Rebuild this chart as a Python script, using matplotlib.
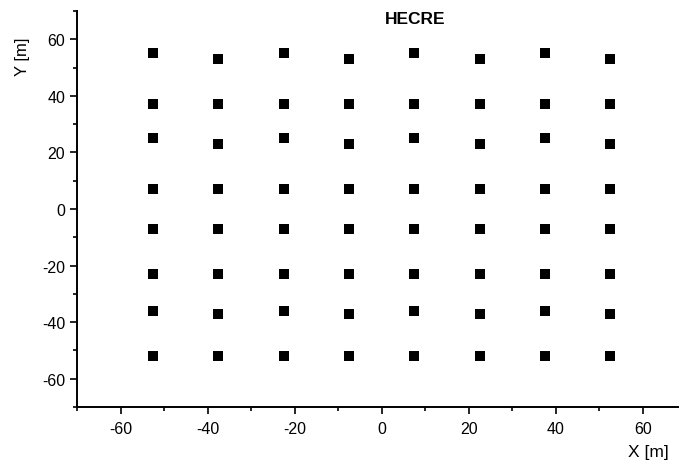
import matplotlib
matplotlib.use("Agg")
import matplotlib.pyplot as plt
from matplotlib.ticker import MultipleLocator

plt.rcParams['font.family'] = ['Liberation Sans', 'DejaVu Sans']
plt.rcParams['axes.unicode_minus'] = False

x_cols = [-52.5, -37.5, -22.5, -7.5, 7.5, 22.5, 37.5, 52.5]
y_odd = [55, 37, 25, 7, -7, -23, -36, -52]
y_even = [53, 37, 23, 7, -7, -23, -37, -52]
tick_vals = [-60, -40, -20, 0, 20, 40, 60]

xs, ys = [], []
for i, x in enumerate(x_cols):
    col = y_odd if i % 2 == 0 else y_even
    for y in col:
        xs.append(x)
        ys.append(y)

W, H = 679, 464
fig = plt.figure(figsize=(W / 100, H / 100), dpi=100)
left, right = 77, 686.5
top, bottom = 12, 408
ax = fig.add_axes([left / W, (H - bottom) / H, (right - left) / W, (bottom - top) / H])
ax.plot(xs, ys, linestyle='none', marker='s', markersize=6.6, markeredgewidth=0, color='black')
ax.set_xlim(-70, 70)
ax.set_ylim(-70, 70)
ax.set_xticks(tick_vals)
ax.set_yticks(tick_vals)
ax.xaxis.set_minor_locator(MultipleLocator(10))
ax.yaxis.set_minor_locator(MultipleLocator(10))
for s in ['top', 'right']:
    ax.spines[s].set_visible(False)
for s in ['left', 'bottom']:
    ax.spines[s].set_linewidth(1.4)
ax.tick_params(which='major', direction='out', length=5, width=1.2, labelsize=11.5, colors='black')
ax.tick_params(which='minor', direction='out', length=2.8, width=1.2)
ax.tick_params(axis='y', which='major', pad=3.5)
ax.tick_params(axis='x', which='major', pad=5)

fig.text(22 / W, 1 - 57 / H, 'Y [m]', rotation=90, ha='center', va='center', fontsize=12)
fig.text(648 / W, 1 - 453 / H, 'X [m]', ha='center', va='center', fontsize=12.5)
fig.text(415 / W, 1 - 20 / H, 'HECRE', ha='center', va='center', fontsize=12.5, fontweight='bold')

fig.savefig('out.png', dpi=100)
